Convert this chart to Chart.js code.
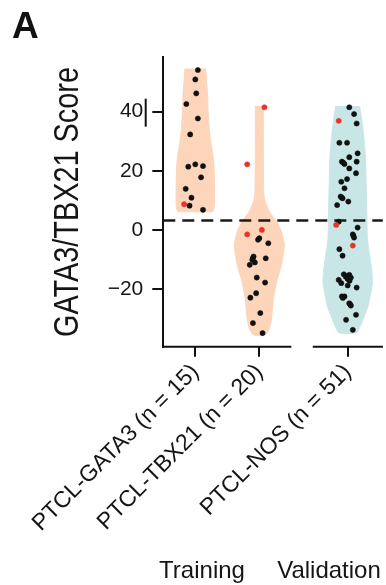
<!DOCTYPE html>
<html>
<head>
<meta charset="utf-8">
<script src="https://cdn.jsdelivr.net/npm/chart.js@4.4.1/dist/chart.umd.min.js"></script>
<style>
  html, body { margin: 0; padding: 0; background: #fff; }
  canvas { display: block; }
</style>
</head>
<body>
<canvas id="violinChart" width="386" height="585"></canvas>
<script>
// categories and axis
const categories = ['PTCL-GATA3 (n = 15)', 'PTCL-TBX21 (n = 20)', 'PTCL-NOS (n = 51)'];
const groupPositions = [1, 2, 3.38];
const yTicks = [-20, 0, 20, 40];
const threshold = [3.2];

// PTCL-GATA3 samples (score, horizontal jitter, red flag)
const gata3Scores = [54.1, 50.9, 46.2, 42.6, 37.7, 32.3, 21.4, 22.2, 21.6, 17.8, 13.9, 10.9, 8.7, 8.2, 6.8];
const gata3Jitter = [0.04, 0, 0.015, -0.14, 0.04, -0.08, -0.11, 0, 0.12, 0.09, -0.15, -0.06, -0.175, -0.09, 0.12];
const gata3Red    = [0, 0, 0, 0, 0, 0, 0, 0, 0, 0, 0, 0, 1, 0, 0];

// PTCL-TBX21 samples
const tbx21Scores = [41.5, 22.2, -1.5, 0.0, -2.8, -3.3, -4.5, -9.0, -9.5, -10.1, -11.8, -11.0, -9.6, -16.1, -17.8, -21.4, -22.9, -28.1, -31.5, -34.9];
const tbx21Jitter = [0.08, -0.19, -0.19, 0.04, 0, -0.02, 0.14, -0.09, -0.1, -0.11, -0.15, -0.07, 0.1, -0.04, 0.09, -0.05, -0.14, 0.015, -0.1, 0.05];
const tbx21Red    = [1, 1, 1, 1, 0, 0, 0, 0, 0, 0, 0, 0, 0, 0, 0, 0, 0, 0, 0, 0];

// PTCL-NOS samples
const nosScores = [41.5, 39.2, 36.9, 36.0, 29.5, 29.5, 25.9, 24.6, 23.1, 23.1, 22.3, 22.8, 20.8, 19.2, 17.2, 16.3, 14.1, 11.3, 11.0, 10.7, 9.6, 8.4,
                   2.8, 1.7, 0.8, -1.5, -2.0, -2.6, -5.3, -6.5, -8.7, -15.0, -15.2, -15.6, -15.8, -16.1, -16.6, -16.9, -17.2, -18.0, -18.8, -19.5,
                   -22.5, -22.5, -23.0, -24.8, -25.2, -25.6, -28.7, -30.4, -33.8];
const nosJitter = [0.025, 0.1, -0.14, 0.14, -0.13, -0.01, 0.155, 0.025, 0.14, -0.09, -0.05, -0.07, 0.025, 0.13, -0.01, -0.1, -0.05, -0.11, -0.095, -0.08, 0.01, -0.165,
                   -0.14, -0.18, 0.155, 0.08, 0.09, 0.1, 0.08, -0.13, -0.08, -0.06, 0.025, 0, -0.03, 0.05, 0, -0.14, 0.03, -0.1, 0, 0.14,
                   -0.09, -0.05, -0.075, 0.025, 0.04, 0.05, 0.13, -0.025, 0.08];
const nosRed = [0, 0, 1, 0, 0, 0, 0, 0, 0, 0, 0, 0, 0, 0, 0, 0, 0, 0, 0, 0, 0, 0,
                0, 1, 0, 0, 0, 0, 1, 0, 0, 0, 0, 0, 0, 0, 0, 0, 0, 0, 0, 0,
                0, 0, 0, 0, 0, 0, 0, 0, 0];

// violin outlines: score level and half width (x units)
const gata3OutlineY  = [54.6, 53.8, 50, 46, 40, 35, 30, 26, 22, 15, 9, 7, 6.2];
const gata3OutlineHW = [0.162, 0.166, 0.177, 0.192, 0.2, 0.215, 0.238, 0.27, 0.29, 0.3, 0.3, 0.29, 0.27];
const tbx21OutlineY  = [41.9, 30, 20, 12.5, 10.1, 6.8, 5.1, 2.8, -0.6, -5.1, -11.8, -17.5, -24.2, -29.8, -33.5, -35.5];
const tbx21OutlineHW = [0.062, 0.062, 0.065, 0.069, 0.085, 0.143, 0.192, 0.27, 0.346, 0.39, 0.346, 0.27, 0.215, 0.192, 0.154, 0.092];
const nosOutlineY  = [41.9, 38, 32.7, 25, 15, 5, -3, -9, -14, -18, -22, -26, -29, -32, -34.8];
const nosOutlineHW = [0.185, 0.215, 0.246, 0.277, 0.29, 0.3, 0.308, 0.346, 0.377, 0.385, 0.354, 0.315, 0.262, 0.208, 0.138];

const FONT = '"Liberation Sans", Arial, Helvetica, sans-serif';
const INK = '#151515';
const PEACH = 'rgb(252, 213, 186)';
const AQUA = 'rgb(201, 230, 231)';

function outline(center, ys, hws) {
    const right = ys.map((y, i) => ({ x: center + hws[i], y: y }));
    const left = ys.map((y, i) => ({ x: center - hws[i], y: y })).reverse();
    return right.concat(left);
}

function samples(center, scores, jitter, red) {
    return {
        data: scores.map((s, i) => ({ x: center + jitter[i], y: s })),
        colors: red.map(r => r ? '#e8342a' : '#111')
    };
}

function violinDataset(points, color) {
    return {
        data: points,
        showLine: true,
        fill: 'shape',
        backgroundColor: color,
        borderColor: color,
        borderWidth: 1,
        tension: 0.2,
        pointRadius: 0,
        order: 3
    };
}

function pointDataset(s) {
    return {
        data: s.data,
        pointRadius: 2.6,
        pointHoverRadius: 2.6,
        pointBackgroundColor: s.colors,
        pointBorderColor: s.colors,
        pointBorderWidth: 0.5,
        order: 1
    };
}

const X_MIN = 0.5, X_MAX = 3.93;

// text, broken x axis line and the stray bar next to 40
const decorations = {
    id: 'decorations',
    afterDraw(chart) {
        const ctx = chart.ctx;
        const xs = chart.scales.x, ys = chart.scales.y;
        const axisY = chart.chartArea.bottom;

        ctx.save();
        ctx.strokeStyle = '#111';
        ctx.lineWidth = 2;
        [[X_MIN, 2.5], [2.85, X_MAX]].forEach(seg => {
            ctx.beginPath();
            ctx.moveTo(xs.getPixelForValue(seg[0]) - 1, axisY);
            ctx.lineTo(xs.getPixelForValue(seg[1]), axisY);
            ctx.stroke();
        });

        // small vertical bar beside the 40 label
        const y40 = ys.getPixelForValue(40);
        ctx.beginPath();
        ctx.moveTo(145.7, y40 - 13);
        ctx.lineTo(145.7, y40 + 15);
        ctx.stroke();

        ctx.fillStyle = '#111';
        ctx.font = 'bold 37px ' + FONT;
        ctx.textAlign = 'left';
        ctx.textBaseline = 'alphabetic';
        ctx.fillText('A', 12, 38);

        ctx.fillStyle = INK;
        ctx.font = '24px ' + FONT;
        ctx.textAlign = 'center';
        ctx.fillText('Training', 202, 578);
        ctx.fillText('Validation', 329, 578);

        const title = 'GATA3/TBX21 Score';
        ctx.font = '35px ' + FONT;
        const w = ctx.measureText(title).width;
        ctx.translate(78, 202);
        ctx.rotate(-Math.PI / 2);
        ctx.scale(270 / w, 1);
        ctx.fillText(title, 0, 0);
        ctx.restore();
    }
};

document.addEventListener('DOMContentLoaded', function() {
    const ctx = document.getElementById('violinChart').getContext('2d');
    const centers = groupPositions;

    const datasets = [
        pointDataset(samples(centers[0], gata3Scores, gata3Jitter, gata3Red)),
        pointDataset(samples(centers[1], tbx21Scores, tbx21Jitter, tbx21Red)),
        pointDataset(samples(centers[2], nosScores, nosJitter, nosRed)),
        {
            data: [{ x: X_MIN, y: threshold[0] }, { x: X_MAX, y: threshold[0] }],
            showLine: true,
            borderColor: '#1a1a1a',
            borderWidth: 2.5,
            borderDash: [12, 7],
            pointRadius: 0,
            fill: false,
            order: 2
        },
        violinDataset(outline(centers[0], gata3OutlineY, gata3OutlineHW), PEACH),
        violinDataset(outline(centers[1], tbx21OutlineY, tbx21OutlineHW), PEACH),
        violinDataset(outline(centers[2], nosOutlineY, nosOutlineHW), AQUA)
    ];

    new Chart(ctx, {
        type: 'scatter',
        data: { datasets: datasets },
        options: {
            responsive: false,
            animation: false,
            events: [],
            layout: { padding: { top: 57, right: 0, bottom: 0, left: 0 } },
            plugins: {
                legend: { display: false },
                tooltip: { enabled: false }
            },
            scales: {
                x: {
                    type: 'linear',
                    min: X_MIN,
                    max: X_MAX,
                    afterBuildTicks: s => { s.ticks = groupPositions.map(v => ({ value: v })); },
                    afterFit: s => { s.height = 238.3; },
                    ticks: {
                        autoSkip: false,
                        minRotation: 45,
                        maxRotation: 45,
                        padding: 2,
                        color: INK,
                        font: { family: FONT, size: 23 },
                        callback: (v, i) => categories[i]
                    },
                    grid: { display: true, drawOnChartArea: false, drawTicks: true, tickLength: 10, color: '#111', lineWidth: 2 },
                    border: { display: false }
                },
                y: {
                    type: 'linear',
                    min: -39.5,
                    max: 58.5,
                    afterBuildTicks: s => { s.ticks = yTicks.map(v => ({ value: v })); },
                    afterFit: s => { s.width = 163.3; },
                    ticks: {
                        padding: 9,
                        color: INK,
                        font: { family: FONT, size: 21 },
                        callback: v => v < 0 ? '\u2212' + Math.abs(v) : String(v)
                    },
                    grid: { display: true, drawOnChartArea: false, drawTicks: true, tickLength: 11, color: '#111', lineWidth: 2 },
                    border: { display: true, color: '#111', width: 2 }
                }
            }
        },
        plugins: [decorations]
    });
});
</script>
</body>
</html>
